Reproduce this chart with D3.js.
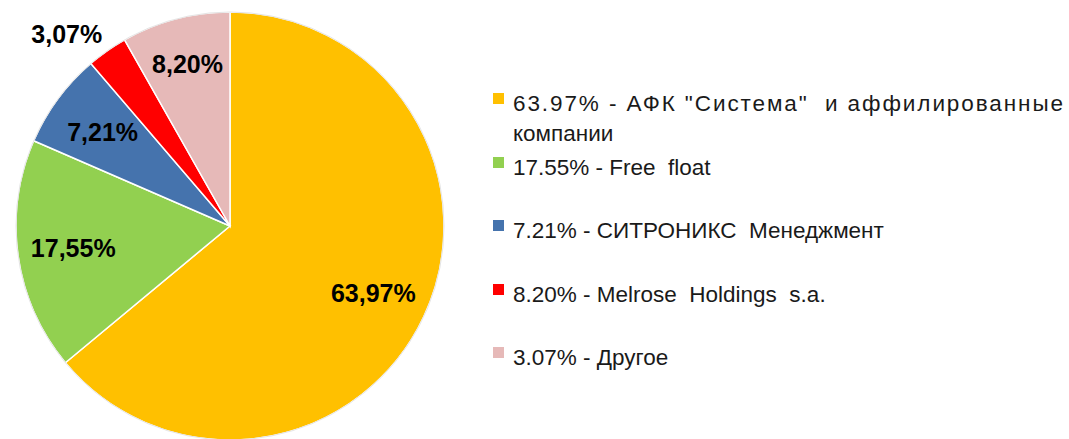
<!DOCTYPE html>
<html>
<head>
<meta charset="utf-8">
<script src="https://cdn.jsdelivr.net/npm/d3@7"></script>
<style>
  body { margin: 0; background: #fff; }
  svg { display: block; }
  .label { font-family: 'Liberation Sans', Arial, sans-serif; font-weight: bold; fill: #000; }
  .legend text { font-family: 'Liberation Sans', Arial, sans-serif; fill: #1a1a1a; white-space: pre; }
</style>
</head>
<body>
<svg class="piechart" width="1069" height="439"></svg>
<script>
// slices, clockwise from 12 o'clock
var shares = [63.97, 17.55, 7.21, 3.07, 8.2]
var sliceLabels = ['63,97%', '17,55%', '7,21%', '3,07%', '8,20%']
var colors = ['#ffc000', '#92d050', '#4573ad', '#ff0000', '#e6b9b8']

// legend, as printed in the source (text order kept)
var legendLines = [
  ['63.97% - АФК "Система"  и аффилированные', 'компании'],
  ['17.55% - Free  float'],
  ['7.21% - СИТРОНИКС  Менеджмент'],
  ['8.20% - Melrose  Holdings  s.a.'],
  ['3.07% - Другое']
]
var legendColors = ['#ffc000', '#92d050', '#4573ad', '#ff0000', '#e6b9b8']

var svg = d3.select('.piechart')
var cx = 230,
  cy = 226,
  radius = 214

var g = svg.append('g').attr('transform', 'translate(' + cx + ',' + cy + ')')

var pie = d3
  .pie()
  .sort(null)
  .value(function(d) {
    return d
  })

var path = d3
  .arc()
  .outerRadius(radius)
  .innerRadius(0)

var labelArc = d3
  .arc()
  .outerRadius(radius * 0.74)
  .innerRadius(radius * 0.74)

var pinkArc = d3
  .arc()
  .outerRadius(radius * 0.78)
  .innerRadius(radius * 0.78)

var outerArc = d3
  .arc()
  .outerRadius(radius * 1.04)
  .innerRadius(radius * 1.04)

var arcs = pie(shares)

var arc = g
  .selectAll('.arc')
  .data(arcs)
  .enter()
  .append('g')
  .attr('class', 'arc')

arc
  .append('path')
  .attr('d', path)
  .attr('fill', function(d, i) {
    return colors[i]
  })
  .attr('stroke', '#fff')
  .attr('stroke-width', 1.5)

// faint outer rim
g.append('circle')
  .attr('r', radius)
  .attr('fill', 'none')
  .attr('stroke', '#e4e4e4')
  .attr('stroke-width', 1)

arc
  .append('text')
  .attr('class', 'label')
  .attr('font-size', 25)
  .attr('transform', function(d, i) {
    var c = labelArc.centroid(d)
    if (i == 3) c = outerArc.centroid(d) // small slice label sits outside
    if (i == 4) c = pinkArc.centroid(d)
    return 'translate(' + c + ')'
  })
  .attr('text-anchor', function(d, i) {
    return i == 3 ? 'end' : 'middle'
  })
  .attr('dy', function(d, i) {
    return i == 3 ? '-0.05em' : '0.35em'
  })
  .text(function(d, i) {
    return sliceLabels[i]
  })

// legend
var legendY = [111, 175, 238, 302, 365]
var legend = svg
  .append('g')
  .attr('class', 'legend')
  .selectAll('g')
  .data(legendLines)
  .enter()
  .append('g')
  .attr('transform', function(d, i) {
    return 'translate(493,' + legendY[i] + ')'
  })

legend
  .append('rect')
  .attr('x', 0)
  .attr('y', -18)
  .attr('width', 11)
  .attr('height', 11)
  .attr('fill', function(d, i) {
    return legendColors[i]
  })

legend
  .selectAll('text')
  .data(function(d) {
    return d
  })
  .enter()
  .append('text')
  .attr('x', 20)
  .attr('y', function(d, j) {
    return j * 30
  })
  .attr('font-size', 22.5)
  .text(function(d) {
    return d
  })

// first line is stretched wide in the source
legend
  .filter(function(d, i) {
    return i == 0
  })
  .select('text')
  .attr('textLength', 550)
  .attr('lengthAdjust', 'spacing')
</script>
</body>
</html>
